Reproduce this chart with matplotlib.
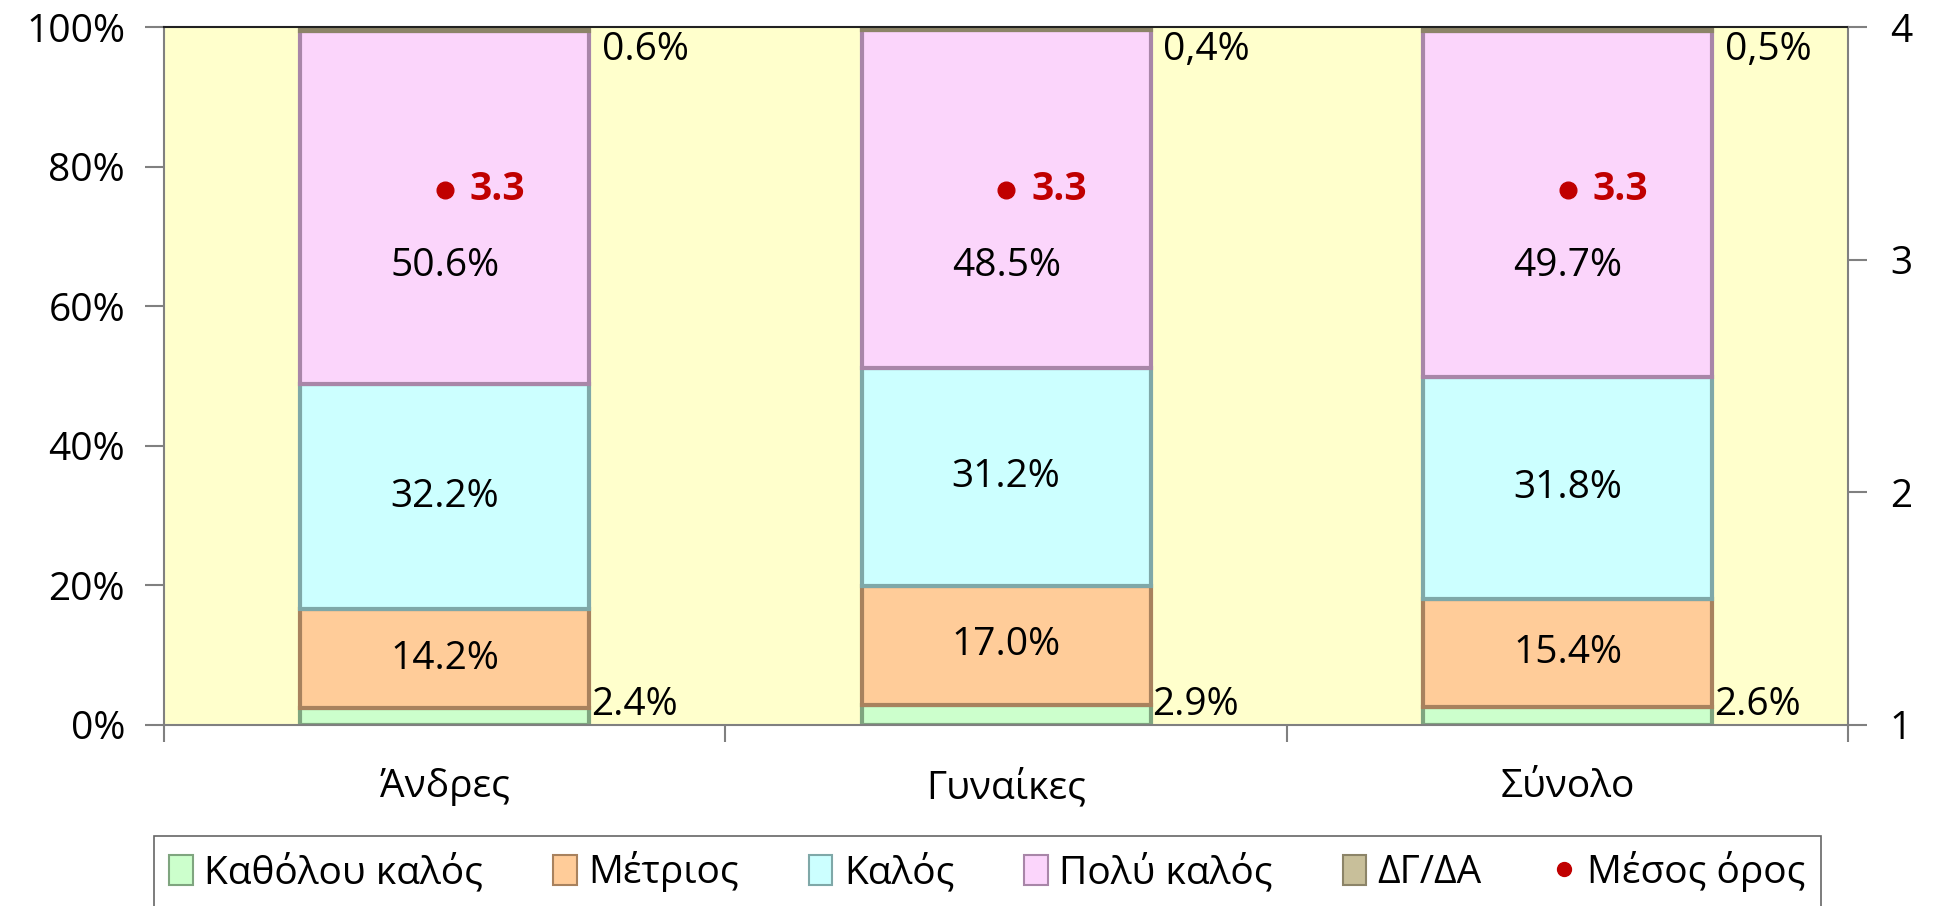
import numpy as np
import matplotlib.pyplot as plt
from matplotlib.lines import Line2D
from matplotlib.patches import Patch

plt.rcParams['font.family'] = ['Open Sans', 'DejaVu Sans']

categories = ['Άνδρες', 'Γυναίκες', 'Σύνολο']
series_names = ['Καθόλου καλός', 'Μέτριος', 'Καλός', 'Πολύ καλός', 'ΔΓ/ΔΑ']
katholou = [2.4, 2.9, 2.6]
metrios = [14.2, 17.0, 15.4]
kalos = [32.2, 31.2, 31.8]
poly_kalos = [50.6, 48.5, 49.7]
dg_da = [0.6, 0.4, 0.5]
dg_da_labels = ['0.6%', '0,4%', '0,5%']
mesos_oros = [3.3, 3.3, 3.3]

face = ['#CCFFCC', '#FFCC99', '#CCFFFF', '#FBD5FB', '#C8BF9A']
edge = ['#7FA57F', '#A8825E', '#7FA8A8', '#A886A8', '#8C8468']

fig = plt.figure(figsize=(19.36, 9.06), dpi=100)
ax = fig.add_axes([0.0847, 0.2, 0.87, 0.77])
ax.set_facecolor('#FFFFCC')

FS = 28
x = np.arange(len(categories))
width = 0.515
data = [katholou, metrios, kalos, poly_kalos, dg_da]
bottom = np.zeros(len(categories))
for vals, fc, ec, name in zip(data, face, edge, series_names):
    vals = np.array(vals)
    ax.bar(x, vals, width, bottom=bottom, color=fc, edgecolor=ec, linewidth=3, label=name, zorder=2)
    if name in ('Μέτριος', 'Καλός'):
        for xi, b, v in zip(x, bottom, vals):
            ax.text(xi, b + v / 2, f'{v:.1f}%', ha='center', va='center', fontsize=FS, zorder=4)
    elif name == 'Πολύ καλός':
        # label pushed down below the mean marker
        for xi, v in zip(x, vals):
            ax.text(xi, 65.8, f'{v:.1f}%', ha='center', va='center', fontsize=FS, zorder=4)
    bottom += vals

for xi, v in zip(x, katholou):
    ax.text(xi + width / 2 + 0.003, 0.1, f'{v:.1f}%', ha='left', va='bottom', fontsize=FS, zorder=4)
for xi, lab in zip(x, dg_da_labels):
    ax.text(xi + width / 2 + 0.022, 99.5, lab, ha='left', va='top', fontsize=FS, zorder=4)

ax.set_xlim(-0.5, 2.5)
ax.set_ylim(0, 100)
ax.set_yticks(np.arange(0, 101, 20))
ax.set_yticklabels([f'{v}%' for v in range(0, 101, 20)])
ax.set_xticks(x)
ax.set_xticklabels(categories)
ax.set_xticks([-0.5, 0.5, 1.5, 2.5], minor=True)
ax.tick_params(axis='x', which='major', length=0, labelsize=FS, pad=31)
ax.tick_params(axis='x', which='minor', length=12, color='#808080', width=1.5)
ax.tick_params(axis='y', length=14, color='#808080', width=1.5, labelsize=FS, pad=14)
for s in ['left', 'right', 'bottom']:
    ax.spines[s].set_color('#808080')
    ax.spines[s].set_linewidth(1.5)
ax.spines['top'].set_color('#222222')
ax.spines['top'].set_linewidth(1.5)

ax2 = ax.twinx()
ax2.set_ylim(1, 4)
ax2.set_yticks([1, 2, 3, 4])
ax2.tick_params(axis='y', length=14, color='#808080', width=1.5, labelsize=FS, pad=16)
for s in ax2.spines.values():
    s.set_visible(False)
ax2.plot(x, mesos_oros, 'o', color='#C00000', markersize=12, linestyle='none', zorder=5)
for xi, m in zip(x, mesos_oros):
    ax2.text(xi + 0.045, m, f'{m:.1f}', color='#C00000', fontsize=FS, fontweight='bold',
             ha='left', va='center')

handles = [Patch(facecolor=fc, edgecolor=ec, linewidth=1.5) for fc, ec in zip(face, edge)]
handles.append(Line2D([], [], marker='o', color='#C00000', linestyle='none', markersize=10))
labels = series_names + ['Μέσος όρος']
leg = fig.legend(handles, labels, loc='upper center', bbox_to_anchor=(0.51, 0.099), ncol=6,
                 fontsize=28, frameon=True, fancybox=False, edgecolor='#404040',
                 handlelength=0.6, handleheight=0.8, handletextpad=0.3, columnspacing=1.8,
                 borderpad=0.4)
leg.get_frame().set_linewidth(1.2)

fig.savefig('out.png', dpi=100)
